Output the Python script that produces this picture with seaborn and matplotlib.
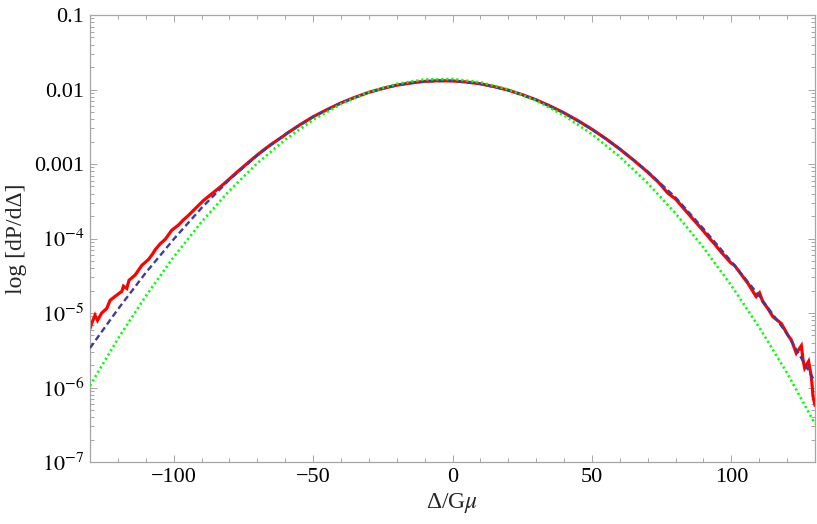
import numpy as np
import pandas as pd
import matplotlib
matplotlib.use("Agg")
import matplotlib.pyplot as plt
from matplotlib.ticker import FixedLocator, LogLocator, NullFormatter, FixedFormatter, MultipleLocator
import seaborn as sns

# ---- data (log10 of dP/dDelta) ----
model_x = [-130, -120, -110, -100, -90, -80, -70, -60, -50, -40, -30, -20, -10, 0,
           10, 20, 30, 40, 50, 60, 70, 80, 90, 100, 110, 120, 130]
blue_log = [-5.47, -4.95, -4.46, -4.01, -3.59, -3.21, -2.885, -2.60, -2.366, -2.180,
            -2.038, -1.942, -1.891, -1.885, -1.924, -2.009, -2.139, -2.314, -2.534,
            -2.795, -3.10, -3.45, -3.87, -4.31, -4.77, -5.28, -5.92]
green_log = [-5.974, -5.347, -4.773, -4.249, -3.778, -3.358, -2.990, -2.673, -2.408,
             -2.195, -2.034, -1.924, -1.865, -1.859, -1.903, -2.000, -2.148, -2.348,
             -2.600, -2.903, -3.257, -3.664, -4.122, -4.632, -5.193, -5.806, -6.49]

red_x = [-130.0, -129.4, -128.2, -127.3, -125.8, -124.0, -122.8, -120.4, -118.6, -118.0,
         -116.8, -116.0, -113.8, -111.4, -109.0, -107.6, -106.6, -104.8, -103.0, -100.7,
         -98.3, -96.5, -94.7, -92.3, -89.3, -86.0, -82.7, -79.7, -76.7, -73.7,
         -70.7, -67.7, -64.8, -61.8, -58.8, -55.0, -50.0, -45.0, -40.0, -35.0,
         -30.0, -25.0, -20.0, -15.0, -10.0, -5.0, 0.0, 5.0, 10.0, 15.0,
         20.0, 25.0, 30.0, 35.0, 40.0, 45.0, 50.0, 55.0, 60.0, 65.0,
         70.0, 74.0, 77.2, 80.0, 83.0, 86.0, 89.1, 92.7, 93.9, 96.3,
         99.9, 101.1, 102.3, 105.9, 108.9, 110.1, 111.3, 113.1, 114.9, 117.9,
         120.3, 121.5, 123.3, 125.1, 125.7, 126.3, 127.7, 128.7, 129.3, 130.0]
red_log = [-5.21, -5.14, -5.03, -5.10, -5.00, -4.94, -4.83, -4.76, -4.71, -4.64,
           -4.67, -4.56, -4.49, -4.36, -4.28, -4.21, -4.15, -4.07, -4.01, -3.89,
           -3.82, -3.75, -3.69, -3.60, -3.49, -3.39, -3.29, -3.19, -3.09, -2.995,
           -2.90, -2.81, -2.73, -2.655, -2.575, -2.48, -2.366, -2.27, -2.18, -2.105,
           -2.038, -1.985, -1.942, -1.912, -1.891, -1.882, -1.885, -1.899, -1.924, -1.962,
           -2.009, -2.069, -2.139, -2.222, -2.314, -2.418, -2.534, -2.66, -2.80, -2.95,
           -3.11, -3.25, -3.39, -3.47, -3.60, -3.73, -3.86, -4.02, -4.07, -4.18,
           -4.33, -4.36, -4.42, -4.60, -4.78, -4.73, -4.85, -4.94, -5.05, -5.14,
           -5.30, -5.36, -5.54, -5.44, -5.63, -5.74, -5.65, -5.86, -6.12, -6.24]

x_ticks = [-100, -50, 0, 50, 100]
y_ticks = [1e-7, 1e-6, 1e-5, 1e-4, 1e-3, 1e-2, 1e-1]
y_tick_labels = ["$10^{-7}$", "$10^{-6}$", "$10^{-5}$", "$10^{-4}$", "0.001", "0.01", "0.1"]

# ---- style ----
sns.set_style("ticks")
plt.rcParams["font.family"] = ["Liberation Serif", "DejaVu Serif"]
plt.rcParams["mathtext.fontset"] = "stix"

frame_col = "#a6a6a6"

fig = plt.figure(figsize=(8.17, 5.24), dpi=100)
ax = fig.add_axes([90 / 817, 62 / 524, 725 / 817, 447 / 524])

red_df = pd.DataFrame({"x": red_x, "y": np.power(10.0, red_log)})
model_df = pd.DataFrame({"x": model_x,
                         "blue": np.power(10.0, blue_log),
                         "green": np.power(10.0, green_log)})

sns.lineplot(data=red_df, x="x", y="y", ax=ax, color="#ff0000", lw=2.3,
             solid_joinstyle="miter", zorder=2)
sns.lineplot(data=model_df, x="x", y="blue", ax=ax, color="#3d3d99", lw=1.7,
             linestyle=(0, (2.6, 1.5)), zorder=3)
sns.lineplot(data=model_df, x="x", y="green", ax=ax, color="#00ff00", lw=1.9,
             linestyle=(0, (0.8, 1.1)), zorder=4)

ax.set_yscale("log")
ax.set_xlim(-130, 130)
ax.set_ylim(1e-7, 1e-1)

ax.xaxis.set_major_locator(FixedLocator(x_ticks))
ax.xaxis.set_minor_locator(MultipleLocator(10))
ax.yaxis.set_major_locator(FixedLocator(y_ticks))
ax.yaxis.set_major_formatter(FixedFormatter(y_tick_labels))
ax.yaxis.set_minor_locator(LogLocator(base=10, subs=np.arange(2, 10), numticks=50))
ax.yaxis.set_minor_formatter(NullFormatter())

for s in ax.spines.values():
    s.set_visible(True)
    s.set_color(frame_col)
    s.set_linewidth(0.9)

ax.tick_params(which="both", direction="in", top=True, right=True, color=frame_col,
               width=0.7, labelsize=16, labelcolor="black")
ax.tick_params(which="major", length=5, pad=4)
ax.tick_params(which="minor", length=2.8)

ax.set_xlabel("Δ/G$\\mu$", fontsize=17, labelpad=3)
ax.set_ylabel("log [dP/dΔ]", fontsize=17, labelpad=5)

fig.savefig("out.png", dpi=100)
